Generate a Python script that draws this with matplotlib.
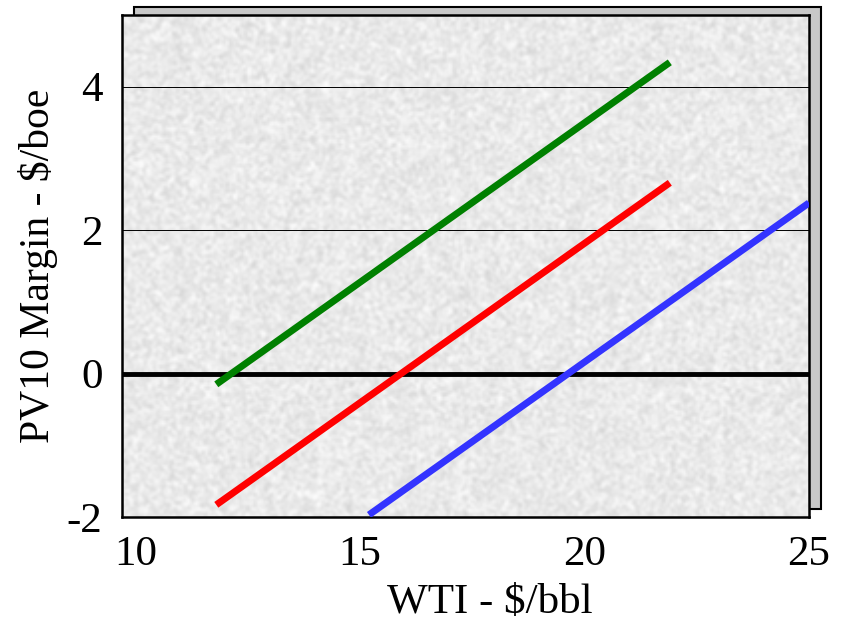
import numpy as np
import matplotlib
matplotlib.use("Agg")
import matplotlib.pyplot as plt
from matplotlib.patches import Rectangle

# Data
green_x = [11.8, 21.9]
green_y = [-0.15, 4.34]
red_x = [11.8, 21.9]
red_y = [-1.83, 2.66]
blue_x = [15.2, 25.0]
blue_y = [-1.97, 2.38]
x_ticks = [10, 15, 20, 25]
y_ticks = [-2, 0, 2, 4]
grid_levels = [2, 4]

plt.rcParams['font.family'] = ['Liberation Serif', 'DejaVu Serif']
plt.rcParams['axes.unicode_minus'] = False

W, H = 853, 630
fig = plt.figure(figsize=(W / 100, H / 100), dpi=100)
fig.patch.set_facecolor('white')

left, right, top, bottom = 122, 809, 15, 517
ax = fig.add_axes([left / W, 1 - bottom / H, (right - left) / W, (bottom - top) / H])
ax.set_zorder(1)

# 3D shadow frame behind the plot area
dx, dy = 12, 8
shadow = Rectangle(((left + dx) / W, 1 - (bottom - dy) / H), (right - left) / W, (bottom - top) / H,
                   transform=fig.transFigure, facecolor='#c8c8c8', edgecolor='black',
                   linewidth=1.5, zorder=-1)
fig.patches.append(shadow)

# speckled texture background (decorative)
rng = np.random.default_rng(3)
tex = rng.random((250, 345))
k = np.array([[1, 2, 1], [2, 4, 2], [1, 2, 1]]) / 16.0
pad = np.pad(tex, 1, mode='wrap')
sm = sum(pad[i:i + tex.shape[0], j:j + tex.shape[1]] * k[i, j] for i in range(3) for j in range(3))
sm = (sm - sm.min()) / (sm.max() - sm.min())
img = 0.84 + 0.15 * sm
ax.imshow(img, cmap='gray', vmin=0, vmax=1, extent=[0, 1, 0, 1], transform=ax.transAxes,
          aspect='auto', zorder=0, interpolation='bilinear')

ax.set_xlim(9.7, 25)
ax.set_ylim(-2, 5)

for g in grid_levels:
    ax.axhline(g, color='black', linewidth=0.7, zorder=1)
ax.axhline(0, color='black', linewidth=3.5, zorder=2)

ax.plot(green_x, green_y, color='#008000', linewidth=5, solid_capstyle='butt', zorder=3)
ax.plot(red_x, red_y, color='#ff0000', linewidth=5, solid_capstyle='butt', zorder=3)
ax.plot(blue_x, blue_y, color='#3333ff', linewidth=5, solid_capstyle='butt', zorder=3)

ax.set_xticks(x_ticks)
ax.set_yticks(y_ticks)
ax.tick_params(axis='x', length=0, labelsize=31, pad=13)
ax.tick_params(axis='y', length=0, labelsize=31, pad=14)
for s in ax.spines.values():
    s.set_linewidth(1.8)
    s.set_color('black')

ax.set_xlabel('WTI - \\$/bbl', fontsize=31)
ax.set_ylabel('PV10 Margin - \\$/boe', fontsize=30)
ax.xaxis.set_label_coords((490 - left) / (right - left), -(584 - bottom) / (bottom - top))
ax.yaxis.set_label_coords(-(122 - 58) / (right - left), 0.5)

fig.savefig('out.png', dpi=100)
